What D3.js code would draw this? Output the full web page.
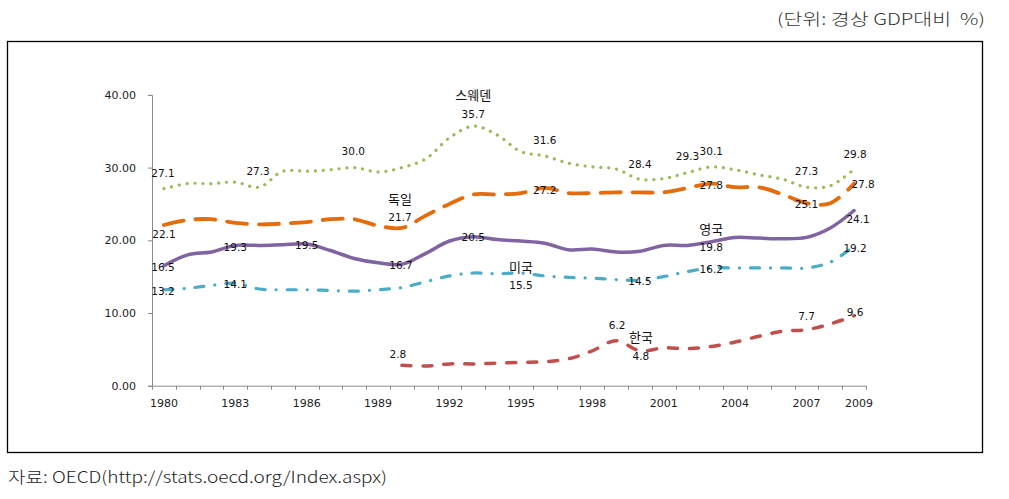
<!DOCTYPE html>
<html>
<head>
<meta charset="utf-8">
<script src="https://cdn.jsdelivr.net/npm/d3@7"></script>
<style>
  html, body { margin: 0; padding: 0; background: #fff; }
  svg { display: block; }
</style>
</head>
<body>
<svg id="chart" width="1009" height="499"></svg>
<script>
// ---------------- DATA ----------------
const years = [1980, 1981, 1982, 1983, 1984, 1985, 1986, 1987, 1988, 1989,
               1990, 1991, 1992, 1993, 1994, 1995, 1996, 1997, 1998, 1999,
               2000, 2001, 2002, 2003, 2004, 2005, 2006, 2007, 2008, 2009];
const xTickLabels = [1980, 1983, 1986, 1989, 1992, 1995, 1998, 2001, 2004, 2007, 2009];
const yTickValues = [0, 10, 20, 30, 40];

const sweden  = [27.1, 27.8, 27.8, 28.0, 27.3, 29.5, 29.5, 29.7, 30.0, 29.4,
                 30.0, 31.2, 34.1, 35.7, 34.5, 32.2, 31.6, 30.6, 30.1, 29.8,
                 28.4, 28.5, 29.3, 30.1, 29.7, 29.0, 28.4, 27.3, 27.5, 29.8];
const germany = [22.1, 22.8, 22.9, 22.4, 22.2, 22.3, 22.5, 22.9, 22.9, 22.0,
                 21.7, 23.4, 25.0, 26.3, 26.3, 26.5, 27.2, 26.5, 26.5, 26.6,
                 26.6, 26.6, 27.2, 27.8, 27.3, 27.3, 26.3, 25.1, 25.1, 27.8];
const uk      = [16.5, 18.0, 18.4, 19.3, 19.3, 19.4, 19.5, 18.6, 17.5, 16.9,
                 16.7, 18.2, 19.9, 20.5, 20.1, 19.9, 19.6, 18.7, 18.8, 18.4,
                 18.5, 19.3, 19.3, 19.8, 20.4, 20.3, 20.2, 20.4, 21.7, 24.1];
const usa     = [13.2, 13.4, 13.8, 14.1, 13.3, 13.2, 13.2, 13.1, 13.0, 13.2,
                 13.5, 14.3, 15.1, 15.5, 15.4, 15.5, 15.1, 14.9, 14.8, 14.6,
                 14.5, 15.0, 15.7, 16.2, 16.2, 16.2, 16.2, 16.2, 17.0, 19.2];
const korea   = [null, null, null, null, null, null, null, null, null, null,
                 2.8, 2.7, 3.0, 3.0, 3.1, 3.2, 3.3, 3.7, 4.8, 6.2,
                 4.8, 5.2, 5.1, 5.4, 6.0, 6.8, 7.5, 7.7, 8.5, 9.6];

const seriesNames = ["스웨덴", "독일", "영국", "미국", "한국"];
const swedenLabelYears  = [1980, 1984, 1988, 1993, 1996, 2000, 2002, 2003, 2007, 2009];
const germanyLabelYears = [1980, 1990, 1996, 2003, 2007, 2009];
const ukLabelYears      = [1980, 1983, 1986, 1990, 1993, 2003, 2009];
const usaLabelYears     = [1980, 1983, 1995, 2000, 2003, 2009];
const koreaLabelYears   = [1990, 1999, 2000, 2007, 2009];
const nameLabelYears    = [1993, 1990, 2003, 1995, 2000];

const unitText = "(단위: 경상 GDP대비  %)";
const sourceText = "자료: OECD(http://stats.oecd.org/Index.aspx)";

// ---------------- STYLES / PLACEMENT ----------------
const seriesStyles = [
  { color: "#9BBB59", width: 3.2, dash: "0.1 7.8", cap: "round" },    // Sweden dotted
  { color: "#E46C0A", width: 3.8, dash: "20 12", cap: "round" },      // Germany long dash
  { color: "#8064A2", width: 3.5, dash: null, cap: "round" },         // UK solid
  { color: "#4BACC6", width: 3.2, dash: "9 11 0.1 11", cap: "round" },// USA dash-dot
  { color: "#C0504D", width: 3.5, dash: "9 12", cap: "round" }        // Korea dashed
];
// value label offsets [dx, dy] (text centre relative to data point)
const valueOffsets = [
  { 1980: [-1, -15], 1984: [-1, -16], 1988: [-1, -16], 1993: [0, -12], 1996: [0, -16],
    2000: [0, -15], 2002: [0, -16], 2003: [0, -16], 2007: [0, -16], 2009: [1, -15] },
  { 1980: [0, 9], 1990: [-2, -11], 1996: [0, 2], 2003: [0, 2], 2007: [0, 1], 2009: [9, 1] },
  { 1980: [-1, 1], 1983: [0, 1.5], 1986: [0, 1], 1990: [-1, 1], 1993: [0, 1], 2003: [0, 5], 2009: [4, 8.5] },
  { 1980: [-1, 1], 1983: [0, 1], 1995: [0, 12], 2000: [0, 1], 2003: [0, 1], 2009: [1, 2] },
  { 1990: [-4, -11], 1999: [1, -15], 2000: [1, 5], 2007: [0, -14], 2009: [1, -4] }
];
const nameOffsets = [[0, -31], [-2, -29], [0, -13], [0, -6], [1, -14]];

// ---------------- DRAW ----------------
const svg = d3.select("#chart");
const allSeries = [sweden, germany, uk, usa, korea];
const labelYears = [swedenLabelYears, germanyLabelYears, ukLabelYears, usaLabelYears, koreaLabelYears];

// outer frame
svg.append("rect")
  .attr("x", 7.5).attr("y", 41.5).attr("width", 975).attr("height", 411)
  .attr("fill", "none").attr("stroke", "#000").attr("stroke-width", 1.3);

const x = d3.scaleBand().domain(years).range([152, 866]).padding(0);
const y = d3.scaleLinear().domain([0, 40]).range([385.7, 94.9]);
const cx = yr => x(yr) + x.bandwidth() / 2;

const axisColor = "#8C8C8C";
const tickFont = "'DejaVu Sans', sans-serif";

// y axis
const yAxis = svg.append("g").attr("transform", "translate(152,0)")
  .call(d3.axisLeft(y).tickValues(yTickValues).tickSize(4).tickPadding(12).tickFormat(d3.format(".2f")));
yAxis.select(".domain").attr("stroke", axisColor);
yAxis.selectAll(".tick line").attr("stroke", axisColor);
yAxis.selectAll(".tick text").attr("font-family", tickFont).attr("font-size", 11).attr("fill", "#222");

// x axis
const xg = svg.append("g");
xg.append("line").attr("x1", x.range()[0]).attr("x2", x.range()[1])
  .attr("y1", y(0) + 0.5).attr("y2", y(0) + 0.5).attr("stroke", axisColor);
const boundaries = years.map(d => x(d)).concat([x.range()[1]]);
xg.selectAll("line.tk").data(boundaries).enter().append("line")
  .attr("class", "tk")
  .attr("x1", d => Math.round(d) + 0.5).attr("x2", d => Math.round(d) + 0.5)
  .attr("y1", y(0)).attr("y2", y(0) + 4).attr("stroke", axisColor);
xg.selectAll("text").data(xTickLabels).enter().append("text")
  .attr("x", d => cx(d) + (d === 2009 ? 5 : 0))
  .attr("y", 407)
  .attr("text-anchor", "middle")
  .attr("font-family", tickFont).attr("font-size", 11).attr("fill", "#222")
  .text(d => d);

// lines
const line = d3.line()
  .defined(d => d.v !== null)
  .x(d => cx(d.year))
  .y(d => y(d.v))
  .curve(d3.curveCatmullRom.alpha(0.5));

const drawOrder = [4, 3, 2, 1, 0];
drawOrder.forEach(si => {
  const st = seriesStyles[si];
  const pts = years.map((yr, i) => ({ year: yr, v: allSeries[si][i] })).filter(d => d.v !== null);
  svg.append("path")
    .attr("d", line(pts))
    .attr("fill", "none")
    .attr("stroke", st.color)
    .attr("stroke-width", st.width)
    .attr("stroke-linecap", st.cap)
    .attr("stroke-linejoin", "round")
    .attr("stroke-dasharray", st.dash);
});

// value labels
const lab = svg.append("g");
allSeries.forEach((vals, si) => {
  labelYears[si].forEach(yr => {
    const v = vals[years.indexOf(yr)];
    const off = valueOffsets[si][yr] || [0, 0];
    lab.append("text")
      .attr("x", cx(yr) + off[0])
      .attr("y", y(v) + off[1])
      .attr("dy", "0.36em")
      .attr("text-anchor", "middle")
      .attr("font-family", tickFont).attr("font-size", 10.5).attr("fill", "#111")
      .text(d3.format(".1f")(v));
  });
  const ny = nameLabelYears[si];
  const nv = vals[years.indexOf(ny)];
  lab.append("text")
    .attr("x", cx(ny) + nameOffsets[si][0])
    .attr("y", y(nv) + nameOffsets[si][1])
    .attr("dy", "0.38em")
    .attr("text-anchor", "middle")
    .attr("font-family", "'Noto Sans CJK KR', sans-serif").attr("font-size", 13).attr("fill", "#111")
    .text(seriesNames[si]);
});

// header / footer
svg.append("text")
  .attr("x", 777).attr("y", 25)
  .attr("font-family", "'Noto Sans CJK KR', sans-serif").attr("font-size", 16)
  .attr("font-weight", 300)
  .attr("fill", "#333")
  .style("white-space", "pre")
  .attr("textLength", 208).attr("lengthAdjust", "spacingAndGlyphs")
  .text(unitText);

svg.append("text")
  .attr("x", 8).attr("y", 483)
  .attr("font-family", "'Noto Sans CJK KR', sans-serif").attr("font-size", 16)
  .attr("font-weight", 300)
  .attr("fill", "#222")
  .attr("textLength", 379).attr("lengthAdjust", "spacingAndGlyphs")
  .text(sourceText);
</script>
</body>
</html>
